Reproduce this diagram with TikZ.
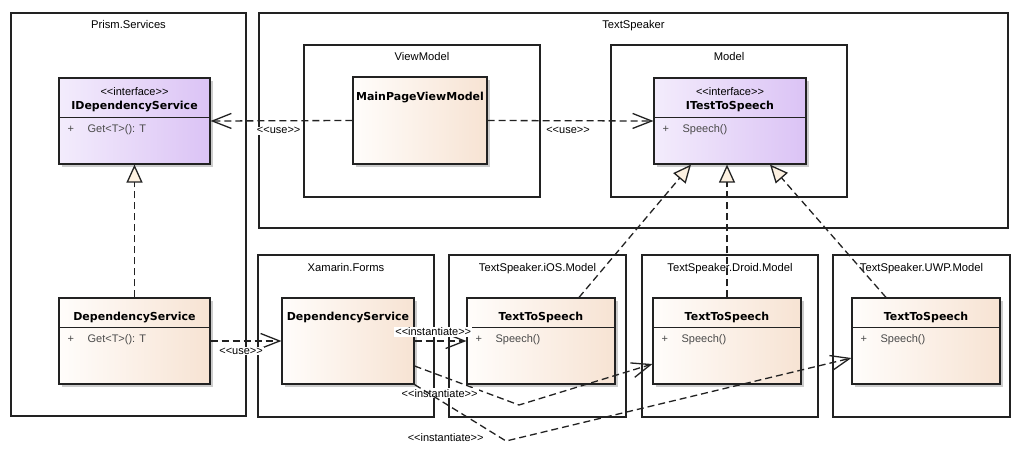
\documentclass[tikz,border=0pt]{standalone}
\usepackage{fontspec}
\setmainfont{Liberation Sans}[Ligatures=TeXOff]
\newfontfamily\namefont{DejaVu Sans}
\usetikzlibrary{arrows.meta,shadows}
\definecolor{purpleL}{HTML}{F3ECFC}
\definecolor{purpleR}{HTML}{DBC3F5}
\definecolor{creamL}{HTML}{FFFDFB}
\definecolor{creamR}{HTML}{F7E3D3}
\definecolor{tri}{HTML}{FDF1E1}
\definecolor{member}{HTML}{4A4A4A}
\definecolor{edge}{HTML}{222222}
\tikzset{
  pkg/.style={draw=edge,line width=1.2pt,rectangle,inner sep=0pt},
  cls/.style={draw=edge,line width=1.2pt,rectangle,inner sep=0pt,minimum height=86pt,
    drop shadow={shadow xshift=2.5pt,shadow yshift=-2.5pt,opacity=0.2,fill=black}},
  iface/.style={cls,left color=purpleL,right color=purpleR},
  impl/.style={cls,left color=creamL,right color=creamR},
  cname/.style={font=\namefont\bfseries\fontsize{11}{13}\selectfont,inner sep=0pt,anchor=base},
  stereo/.style={font=\fontsize{11}{13}\selectfont,inner sep=0pt,anchor=base},
  member/.style={font=\fontsize{11}{13}\selectfont,text=member,inner sep=0pt,anchor=base west},
  ptitle/.style={font=\fontsize{11.2}{13}\selectfont,inner sep=0pt,anchor=base},
  lbl/.style={font=\fontsize{11}{13}\selectfont,fill=white,inner sep=1pt},
  dep/.style={draw=edge,line width=1.3pt,dash pattern=on 7pt off 4pt,
    -{Straight Barb[length=19pt,width=15pt]}},
  real/.style={draw=edge,line width=1.3pt,dash pattern=on 7pt off 4pt,
    -{Triangle[length=18pt,width=16pt,fill=tri]}},
}
\begin{document}
\begin{tikzpicture}[x=1pt,y=-1pt]
\useasboundingbox (0,0) rectangle (1024,453);
% packages
\node[pkg,minimum width=235pt,minimum height=403pt] (prism) at (128.5,214.5) {};
\node[pkg,minimum width=749pt,minimum height=215pt] (speaker) at (633.5,120.5) {};
\node[pkg,minimum width=236pt,minimum height=152pt] (viewmodel) at (422,121) {};
\node[pkg,minimum width=236pt,minimum height=152pt] (model) at (729,121) {};
\node[pkg,minimum width=176pt,minimum height=162pt] (xamarin) at (346,336) {};
\node[pkg,minimum width=177pt,minimum height=162pt] (iosmodel) at (537.5,336) {};
\node[pkg,minimum width=176pt,minimum height=162pt] (droidmodel) at (730,336) {};
\node[pkg,minimum width=177pt,minimum height=162pt] (uwpmodel) at (921.5,336) {};
\node[ptitle] at ([yshift=-16pt]prism.north) {Prism.Services};
\node[ptitle] at ([yshift=-16pt]speaker.north) {TextSpeaker};
\node[ptitle] at ([yshift=-16pt]viewmodel.north) {ViewModel};
\node[ptitle] at ([yshift=-16pt]model.north) {Model};
\node[ptitle] at ([yshift=-17pt]xamarin.north) {Xamarin.Forms};
\node[ptitle] at ([yshift=-17pt]iosmodel.north) {TextSpeaker.iOS.Model};
\node[ptitle] at ([yshift=-17pt]droidmodel.north) {TextSpeaker.Droid.Model};
\node[ptitle] at ([yshift=-17pt]uwpmodel.north) {TextSpeaker.UWP.Model};

% classes
\node[iface,minimum width=151pt] (idep) at (134.5,121) {};
\node[stereo] at ([yshift=-18pt]idep.north) {<<interface>>};
\node[cname] at ([yshift=-32pt]idep.north) {IDependencyService};
\draw[draw=edge,line width=1.2pt] ([yshift=-40pt]idep.north west) -- ([yshift=-40pt]idep.north east);
\node[member] at ([xshift=9pt,yshift=-55pt]idep.north west) {+};
\node[member] at ([xshift=29pt,yshift=-55pt]idep.north west) {Get<T>(): T};

\node[impl,minimum width=134pt,minimum height=87pt] (mainvm) at (420,120.5) {};
\node[cname] at ([yshift=-24pt]mainvm.north) {MainPageViewModel};

\node[iface,minimum width=152pt] (itts) at (730,121) {};
\node[stereo] at ([yshift=-18pt]itts.north) {<<interface>>};
\node[cname] at ([yshift=-32pt]itts.north) {ITestToSpeech};
\draw[draw=edge,line width=1.2pt] ([yshift=-40pt]itts.north west) -- ([yshift=-40pt]itts.north east);
\node[member] at ([xshift=9pt,yshift=-55pt]itts.north west) {+};
\node[member] at ([xshift=29pt,yshift=-55pt]itts.north west) {Speech()};

\node[impl,minimum width=151pt] (prismds) at (134.5,341) {};
\node[cname] at ([yshift=-23pt]prismds.north) {DependencyService};
\draw[draw=edge,line width=1.2pt] ([yshift=-30pt]prismds.north west) -- ([yshift=-30pt]prismds.north east);
\node[member] at ([xshift=9pt,yshift=-45pt]prismds.north west) {+};
\node[member] at ([xshift=29pt,yshift=-45pt]prismds.north west) {Get<T>(): T};

\node[impl,minimum width=132pt] (xamds) at (348,341) {};
\node[cname] at ([yshift=-23pt]xamds.north) {DependencyService};

\node[impl,minimum width=148pt] (iostts) at (541,341) {};
\node[cname] at ([yshift=-23pt]iostts.north) {TextToSpeech};
\draw[draw=edge,line width=1.2pt] ([yshift=-30pt]iostts.north west) -- ([yshift=-30pt]iostts.north east);
\node[member] at ([xshift=9pt,yshift=-45pt]iostts.north west) {+};
\node[member] at ([xshift=29pt,yshift=-45pt]iostts.north west) {Speech()};

\node[impl,minimum width=148pt] (droidtts) at (727,341) {};
\node[cname] at ([yshift=-23pt]droidtts.north) {TextToSpeech};
\draw[draw=edge,line width=1.2pt] ([yshift=-30pt]droidtts.north west) -- ([yshift=-30pt]droidtts.north east);
\node[member] at ([xshift=9pt,yshift=-45pt]droidtts.north west) {+};
\node[member] at ([xshift=29pt,yshift=-45pt]droidtts.north west) {Speech()};

\node[impl,minimum width=148pt] (uwptts) at (926,341) {};
\node[cname] at ([yshift=-23pt]uwptts.north) {TextToSpeech};
\draw[draw=edge,line width=1.2pt] ([yshift=-30pt]uwptts.north west) -- ([yshift=-30pt]uwptts.north east);
\node[member] at ([xshift=9pt,yshift=-45pt]uwptts.north west) {+};
\node[member] at ([xshift=29pt,yshift=-45pt]uwptts.north west) {Speech()};

% realizations
\draw[real] (prismds.north) -- (idep.south);
\draw[real] ([xshift=38pt]iostts.north) -- ([xshift=-39pt]itts.south);
\draw[real] (droidtts.north) -- (droidtts.north |- itts.south);
\draw[real] ([xshift=-40pt]uwptts.north) -- ([xshift=40pt]itts.south);

% dependencies
\coordinate (bendD) at (519,405);
\coordinate (bendU) at (506,441);
\draw[dep] (mainvm.west) -- node[lbl,pos=0.52,yshift=-10pt] {<<use>>} (idep.east);
\draw[dep] (mainvm.east) -- node[lbl,pos=0.485,yshift=-10pt] {<<use>>} (itts.west);
\draw[dep] (prismds.east) -- node[lbl,pos=0.43,yshift=-10pt] {<<use>>} (xamds.west);
\draw[dep] (xamds.east) -- node[lbl,pos=0.36,yshift=9pt] {<<instantiate>>} (iostts.west);
\draw[dep] ([yshift=-25pt]xamds.east) -- node[lbl,pos=0.24,yshift=-18pt] {<<instantiate>>} (bendD) -- ([yshift=-23pt]droidtts.west);
\draw[dep] (xamds.south east) -- node[lbl,pos=0.34,yshift=-34pt] {<<instantiate>>} (bendU) -- ([yshift=-17pt]uwptts.west);
\end{tikzpicture}
\end{document}
